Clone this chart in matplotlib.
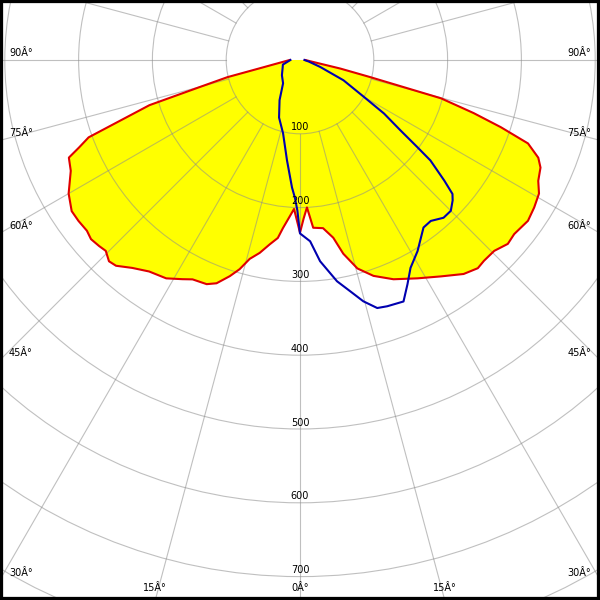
import numpy as np
import matplotlib.pyplot as plt
import matplotlib.patches as mpatches

# Polar light distribution curve (intensity in cd, gamma angle in degrees)
# C0-C180 plane (red outline, yellow fill)
red_angles = [-90, -78.3, -76.7, -74.9, -73.3, -69.9, -68.4, -67.1, -64.2, -60,
              -56.5, -54, -51.3, -49.4, -47.2, -45.5, -43.5, -41.8, -38.9, -35.5,
              -31.5, -28.2, -26.1, -22.6, -20.5, -18, -16.1, -14.2, -11.8, -9.3,
              -7.1, -5.8, -3.7, -2.3, 0, 1.3, 2.7, 4.5, 7.8, 10.6,
              12.6, 15.4, 18.8, 23.1, 28.3, 33.1, 37.4, 40.5, 42.5, 45.5,
              48.5, 50.9, 54.8, 57.8, 60.8, 63.1, 65.9, 67.7, 69.9, 71.5,
              73, 74.8, 76.3, 78, 90]
red_cd = [14, 57, 101, 141, 213, 305, 322, 340, 345, 362,
          371, 371, 370, 373, 371, 369, 376, 374, 362, 352,
          347, 337, 331, 329, 323, 308, 295, 278, 267, 253,
          243, 229, 212, 202, 234, 215, 200, 228, 230, 245,
          269, 293, 309, 323, 336, 350, 365, 371, 369, 369,
          376, 374, 378, 375, 371, 362, 357, 349, 329, 287,
          246, 198, 98, 56, 7]

# C90-C270 plane (blue outline)
blue_angles = [-90, -75, -65, -50, -36, -27, -20, -13, -10, -7.4,
               -3.6, -2.1, -1, 0, 3.2, 5.7, 9.5, 12.3, 14.7, 17.3,
               19.5, 23.2, 25.6, 28, 31.6, 36.4, 39.1, 42.3, 45, 47.4,
               48.7, 50.1, 52.4, 53.4, 55, 57.5, 60, 65, 71, 80, 90]
blue_cd = [13, 24, 26, 32, 39, 61, 83, 102, 118, 137,
           173, 187, 204, 235, 246, 274, 304, 321, 338, 352,
           354, 356, 337, 319, 304, 282, 281, 289, 289, 281,
           275, 255, 223, 198, 166, 135, 100, 65, 29, 12, 6]

ring_values = [100, 200, 300, 400, 500, 600, 700, 800]
ring_labels = ["100", "200", "300", "400", "500", "600", "700"]
angle_ticks = [-90, -75, -60, -45, -30, -15, 0, 15, 30, 45, 60, 75, 90]

# pixel layout: centre at (300, 60), 0.738 px per cd
k = 0.738
c = 1 / k
pt = 0.72  # points per pixel at 100 dpi


def to_xy(angles, cd):
    a = np.radians(angles)
    cd = np.asarray(cd, dtype=float)
    return cd * np.sin(a), -cd * np.cos(a)


fig = plt.figure(figsize=(6, 6), dpi=100)
ax = fig.add_axes([0, 0, 1, 1])
ax.set_xlim(-300 * c, 300 * c)
ax.set_ylim(-540 * c, 60 * c)
ax.set_aspect("equal")
ax.axis("off")

rx, ry = to_xy(red_angles, red_cd)
bx, by = to_xy(blue_angles, blue_cd)

ax.fill(rx, ry, color="#ffff00", zorder=1, lw=0)

# grid
grid_kw = dict(color="#8c8c8c", alpha=0.55, lw=0.8, zorder=2)
for r in ring_values:
    ax.add_patch(mpatches.Circle((0, 0), r, fill=False, **grid_kw))
for a in range(0, 360, 15):
    t = np.radians(a)
    ax.plot([100 * np.sin(t), 1200 * np.sin(t)],
            [-100 * np.cos(t), -1200 * np.cos(t)], **grid_kw)

ax.plot(rx, ry, color="#e00000", lw=1.5, zorder=3)
ax.plot(bx, by, color="#0000b0", lw=1.5, zorder=3)

# ring labels
for r, lab in zip(ring_values, ring_labels):
    ax.annotate(lab, (0, -r), xytext=(0, 6.5 * pt), textcoords="offset points",
                ha="center", va="center", fontsize=7, zorder=4)

# angle labels where the rays meet the frame
for a in angle_ticks:
    t = np.radians(a)
    s, co = np.sin(t), np.cos(t)
    t_side = 300 * c / abs(s) if s != 0 else np.inf
    t_bot = 540 * c / co if co > 1e-9 else np.inf
    lab = f"{abs(a)}Â°"
    if t_side < t_bot:
        x, y = np.sign(s) * 300 * c, -t_side * co
        ax.annotate(lab, (x, y), xytext=(-np.sign(s) * 9 * pt, 7 * pt),
                    textcoords="offset points",
                    ha="left" if s < 0 else "right", va="center",
                    fontsize=7, zorder=4)
    else:
        x, y = t_bot * s, -540 * c
        ax.annotate(lab, (x, y), xytext=(0, 12 * pt), textcoords="offset points",
                    ha="center", va="center", fontsize=7, zorder=4)

# black frame
fig.patches.append(mpatches.Rectangle((0, 0), 1, 1, transform=fig.transFigure,
                                      fill=False, ec="black", lw=4.5, zorder=10))

fig.savefig("out.png", dpi=100)
